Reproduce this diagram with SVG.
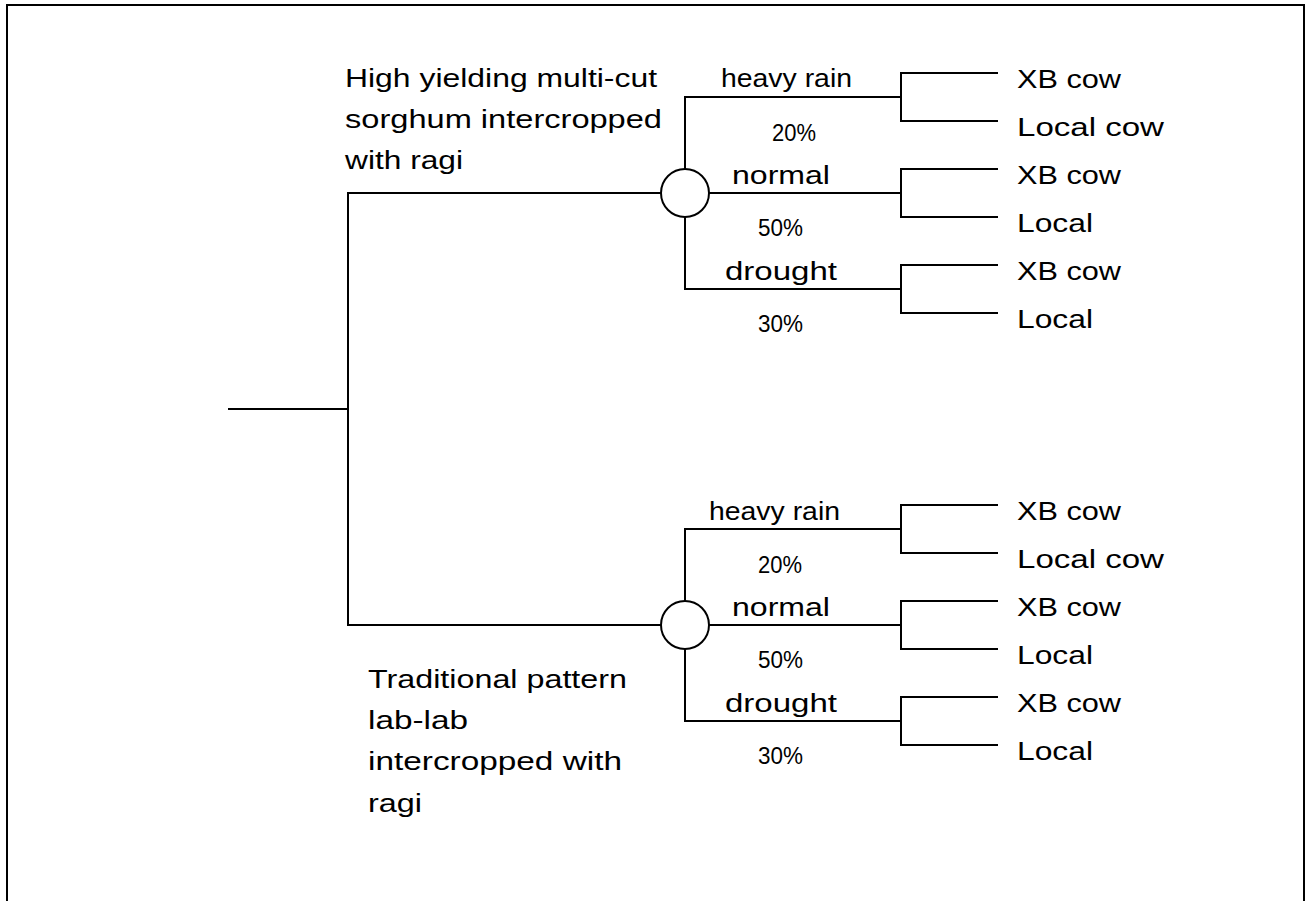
<svg xmlns="http://www.w3.org/2000/svg" width="1312" height="901" viewBox="0 0 1312 901">
<style>
.ln{stroke:#000;stroke-width:2;fill:none;stroke-linecap:square}
.ch{stroke:#000;stroke-width:2;fill:#fff}
.t{font-family:"Liberation Sans",Arial,sans-serif;font-size:26px;fill:#000}
.p{font-family:"Liberation Sans",Arial,sans-serif;font-size:23px;fill:#000}
</style>
<rect x="0" y="0" width="1312" height="901" fill="#fff"/>
<rect x="7" y="5" width="1297" height="930" fill="none" stroke="#000" stroke-width="2"/>
<g id="connectors">
<path class="ln" d="M229 409H348M348 193V625M348 193H661M348 625H661"/>
<path class="ln" d="M685 169V97H901M709 193H901M685 217V289H901"/>
<path class="ln" d="M901 73V121M901 73H997M901 121H997M901 169V217M901 169H997M901 217H997M901 265V313M901 265H997M901 313H997"/>
<path class="ln" d="M685 601V529H901M709 625H901M685 649V721H901"/>
<path class="ln" d="M901 505V553M901 505H997M901 553H997M901 601V649M901 601H997M901 649H997M901 697V745M901 697H997M901 745H997"/>
</g>
<g id="decision-labels">
<text class="t" x="345" y="87" textLength="312" lengthAdjust="spacingAndGlyphs">High yielding multi-cut</text>
<text class="t" x="345" y="128" textLength="317" lengthAdjust="spacingAndGlyphs">sorghum intercropped</text>
<text class="t" x="345" y="169" textLength="118" lengthAdjust="spacingAndGlyphs">with ragi</text>
<text class="t" x="368" y="688" textLength="259" lengthAdjust="spacingAndGlyphs">Traditional pattern</text>
<text class="t" x="368" y="729" textLength="100" lengthAdjust="spacingAndGlyphs">lab-lab</text>
<text class="t" x="368" y="770" textLength="254" lengthAdjust="spacingAndGlyphs">intercropped with</text>
<text class="t" x="368" y="812" textLength="54" lengthAdjust="spacingAndGlyphs">ragi</text>
</g>
<g id="chance-top">
<circle class="ch" cx="685" cy="193" r="24"/>
<text class="t" x="721" y="87" textLength="131" lengthAdjust="spacingAndGlyphs">heavy rain</text>
<text class="p" x="772" y="141" textLength="44" lengthAdjust="spacingAndGlyphs">20%</text>
<text class="t" x="732" y="184" textLength="98" lengthAdjust="spacingAndGlyphs">normal</text>
<text class="p" x="758" y="236" textLength="45" lengthAdjust="spacingAndGlyphs">50%</text>
<text class="t" x="725" y="280" textLength="112" lengthAdjust="spacingAndGlyphs">drought</text>
<text class="p" x="758" y="332" textLength="45" lengthAdjust="spacingAndGlyphs">30%</text>
</g>
<g id="outcomes-top">
<text class="t" x="1017" y="88" textLength="104" lengthAdjust="spacingAndGlyphs">XB cow</text>
<text class="t" x="1017" y="136" textLength="147" lengthAdjust="spacingAndGlyphs">Local cow</text>
<text class="t" x="1017" y="184" textLength="104" lengthAdjust="spacingAndGlyphs">XB cow</text>
<text class="t" x="1017" y="232" textLength="76" lengthAdjust="spacingAndGlyphs">Local</text>
<text class="t" x="1017" y="280" textLength="104" lengthAdjust="spacingAndGlyphs">XB cow</text>
<text class="t" x="1017" y="328" textLength="76" lengthAdjust="spacingAndGlyphs">Local</text>
</g>
<g id="chance-bottom">
<circle class="ch" cx="685" cy="625" r="24"/>
<text class="t" x="709" y="520" textLength="131" lengthAdjust="spacingAndGlyphs">heavy rain</text>
<text class="p" x="758" y="573" textLength="44" lengthAdjust="spacingAndGlyphs">20%</text>
<text class="t" x="732" y="616" textLength="98" lengthAdjust="spacingAndGlyphs">normal</text>
<text class="p" x="758" y="668" textLength="45" lengthAdjust="spacingAndGlyphs">50%</text>
<text class="t" x="725" y="712" textLength="112" lengthAdjust="spacingAndGlyphs">drought</text>
<text class="p" x="758" y="764" textLength="45" lengthAdjust="spacingAndGlyphs">30%</text>
</g>
<g id="outcomes-bottom">
<text class="t" x="1017" y="520" textLength="104" lengthAdjust="spacingAndGlyphs">XB cow</text>
<text class="t" x="1017" y="568" textLength="147" lengthAdjust="spacingAndGlyphs">Local cow</text>
<text class="t" x="1017" y="616" textLength="104" lengthAdjust="spacingAndGlyphs">XB cow</text>
<text class="t" x="1017" y="664" textLength="76" lengthAdjust="spacingAndGlyphs">Local</text>
<text class="t" x="1017" y="712" textLength="104" lengthAdjust="spacingAndGlyphs">XB cow</text>
<text class="t" x="1017" y="760" textLength="76" lengthAdjust="spacingAndGlyphs">Local</text>
</g>
</svg>
